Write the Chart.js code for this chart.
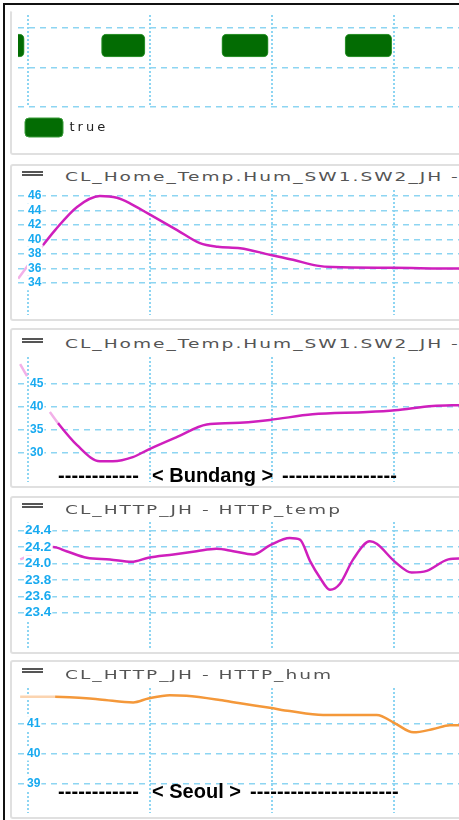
<!DOCTYPE html>
<html><head><meta charset="utf-8">
<script src="https://cdn.jsdelivr.net/npm/chart.js@4.4.1/dist/chart.umd.min.js"></script>
<style>
html,body{margin:0;padding:0;overflow:hidden;background:#fff;}
body{width:459px;height:820px;position:relative;}
.frame{position:absolute;left:3px;top:3px;width:600px;height:900px;border-left:2px solid #111;border-top:2px solid #111;}
.panel{position:absolute;left:10px;width:520px;border:2px solid #e0e0e0;border-radius:3px;box-sizing:border-box;}
.ham{position:absolute;left:22px;width:21px;height:2px;background:#555;}
.ttl{position:absolute;left:65px;font:13px 'DejaVu Sans',sans-serif;line-height:16px;letter-spacing:1.4px;color:#555;transform:scaleX(1.43);transform-origin:0 50%;white-space:nowrap;}
.note{position:absolute;font:bold 20px 'Liberation Sans',Arial,sans-serif;line-height:20px;color:#000;white-space:nowrap;}
.dash{letter-spacing:0.1px;}
canvas{position:absolute;}
</style></head>
<body>
<div class="frame"></div>

<div class="panel" style="top:10px;height:145px;border-top-color:transparent;"></div>
<canvas id="c1" width="464" height="132" style="left:14px;top:15px;width:464px;height:132px;"></canvas>

<div class="panel" style="top:164px;height:157px;"></div>
<div class="ham" style="top:171px;"></div><div class="ham" style="top:174px;"></div>
<div class="ttl" style="top:169px;">CL_Home_Temp.Hum_SW1.SW2_JH -</div>
<canvas id="c2" width="460" height="125" style="left:18px;top:190px;width:460px;height:125px;"></canvas>

<div class="panel" style="top:328px;height:160px;"></div>
<div class="ham" style="top:338px;"></div><div class="ham" style="top:341px;"></div>
<div class="ttl" style="top:336px;">CL_Home_Temp.Hum_SW1.SW2_JH -</div>
<canvas id="c3" width="460" height="125" style="left:18px;top:357px;width:460px;height:125px;"></canvas>
<div class="note dash" style="left:58px;top:465px;">------------</div>
<div class="note" style="left:152px;top:465px;">&lt; Bundang &gt;</div>
<div class="note dash" style="left:282px;top:465px;">-----------------</div>

<div class="panel" style="top:496px;height:158px;"></div>
<div class="ham" style="top:503px;"></div><div class="ham" style="top:506px;"></div>
<div class="ttl" style="top:502px;">CL_HTTP_JH - HTTP_temp</div>
<canvas id="c4" width="460" height="126" style="left:18px;top:522px;width:460px;height:126px;"></canvas>

<div class="panel" style="top:660px;height:159px;"></div>
<div class="ham" style="top:668px;"></div><div class="ham" style="top:671px;"></div>
<div class="ttl" style="top:667px;">CL_HTTP_JH - HTTP_hum</div>
<canvas id="c5" width="460" height="125" style="left:18px;top:688px;width:460px;height:125px;"></canvas>
<div class="note dash" style="left:58px;top:781px;">------------</div>
<div class="note" style="left:152px;top:781px;">&lt; Seoul &gt;</div>
<div class="note dash" style="left:250px;top:781px;">----------------------</div>

<script>
// ---------- data (time in minutes) ----------
const X_GRID_TICKS = [0, 30, 60, 90];

const STATE_LABEL = 'true';
const STATE_ON_START = [-10, 18.0, 47.6, 77.9];
const STATE_ON_END   = [-1.0, 28.7, 59.0, 89.4];
const STATE_GRID_TICKS = [0, 1, 2];

const HUM1_T = [-2.5, 3.6, 6.6, 12.0, 17.6, 21.8, 25.0, 29.4, 36.6, 42.2, 46.6, 52.1, 59.4, 65.1, 71.0, 74.9, 89.7, 105.9, 110.6];
const HUM1_V = [34.6, 39.2, 41.3, 44.5, 46.0, 45.75, 45.0, 43.6, 41.3, 39.5, 39.0, 38.8, 37.9, 37.2, 36.4, 36.2, 36.1, 36.0, 36.0];
const HUM1_TICKS = [34, 36, 38, 40, 42, 44, 46];

const HUM2_T = [-2.0, -0.3, 2.5, 5.3, 7.3, 12.0, 17.6, 20.8, 25.7, 29.4, 36.6, 43.9, 50.3, 59.4, 69.9, 83.3, 90.2, 99.5, 105.9, 110.6];
const HUM2_V = [49.3, 46.7, null, 38.9, 36.5, 31.7, 28.2, 28.2, 29.1, 30.7, 33.5, 36.2, 36.5, 37.2, 38.4, 38.9, 39.3, 40.2, 40.4, 40.5];
const HUM2_TICKS = [30, 35, 40, 45];

const TEMP_T = [-2.0, 6.1, 9.4, 14.4, 20.1, 25.4, 29.5, 35.7, 41.4, 46.3, 50.4, 55.3, 59.4, 64.3, 66.8, 69.3, 71.7, 74.2, 76.6, 79.9, 84.0, 85.7, 90.2, 94.3, 98.0, 103.3, 105.9, 110.6];
const TEMP_V = [24.05, 24.20, 24.15, 24.07, 24.05, 24.02, 24.07, 24.11, 24.15, 24.18, 24.15, 24.11, 24.22, 24.31, 24.29, 24.03, 23.83, 23.68, 23.75, 24.05, 24.27, 24.24, 24.02, 23.89, 23.91, 24.05, 24.06, 24.06];
const TEMP_TICKS = [23.4, 23.6, 23.8, 24.0, 24.2, 24.4];

const HUM3_T = [-2.0, 6.6, 17.6, 25.8, 29.5, 34.8, 38.9, 47.1, 52.1, 59.4, 64.3, 72.5, 85.7, 90.2, 94.7, 99.6, 103.7, 105.9, 110.6];
const HUM3_V = [41.89, 41.89, 41.80, 41.70, 41.83, 41.94, 41.92, 41.78, 41.67, 41.52, 41.41, 41.28, 41.28, 41.00, 40.70, 40.81, 40.94, 40.94, 40.94];
const HUM3_TICKS = [39, 40, 41];

// ---------- styles ----------
const X_MIN = -2.53, X_MAX = 110.6;
const GRID = '#8dd5f2';
const TICK = '#18aaf0';
const MAGENTA = '#cf1fbd', MAGENTA_FADE = '#f2b0e8';
const ORANGE = '#f4983a', ORANGE_FADE = '#fbd4b0';
const GREEN = '#036c03', GREEN_EDGE = '#3a9c3a';

function xScale() {
  return {
    type: 'linear', min: X_MIN, max: X_MAX, position: 'bottom', offset: false,
    ticks: { display: false },
    grid: { color: GRID, lineWidth: 2, drawTicks: false, offset: false },
    border: { display: false, dash: [2, 2] },
    afterBuildTicks: s => { s.ticks = X_GRID_TICKS.map(value => ({ value })); },
    afterFit: s => { s.height = 0; s.paddingLeft = 0; s.paddingRight = 0; }
  };
}

const base = {
  responsive: false, animation: false, events: [],
  layout: { padding: 0, autoPadding: false },
  plugins: { tooltip: { enabled: false }, title: { display: false } }
};

// ---------- panel 1: state timeline ----------
new Chart(document.getElementById('c1'), {
  type: 'bar',
  data: {
    datasets: [{
      label: STATE_LABEL,
      data: STATE_ON_START.map((s, i) => ({ x: [s, STATE_ON_END[i]], y: 1.55 })),
      backgroundColor: GREEN, borderColor: GREEN_EDGE, borderWidth: 1,
      borderRadius: 5, borderSkipped: false, barThickness: 23
    }]
  },
  options: Object.assign({}, base, {
    indexAxis: 'y',
    plugins: Object.assign({}, base.plugins, {
      legend: {
        display: true, position: 'bottom', align: 'start',
        labels: {
          boxWidth: 38, boxHeight: 19, padding: 11, useBorderRadius: true, borderRadius: 4,
          color: '#222', font: { family: "'DejaVu Sans', sans-serif", size: 13 }
        }
      }
    }),
    scales: {
      x: xScale(),
      y: {
        type: 'linear', min: 0, max: 2.32, position: 'left', offset: false,
        ticks: { display: false },
        grid: { color: GRID, lineWidth: 1.5, drawTicks: false, offset: false },
        border: { display: false, dash: [6, 5] },
        afterBuildTicks: s => { s.ticks = STATE_GRID_TICKS.map(value => ({ value })); },
        afterFit: s => { s.width = 4; s.paddingTop = 0; s.paddingBottom = 0; }
      }
    }
  }),
  plugins: [{ id: 'spacing', beforeDraw: c => { c.ctx.letterSpacing = '3px'; } }]
});

// ---------- line panels ----------
function lineChart(id, T, V, ticks, yMin, yMax, color, fade, fadeUntil, fontSize, pad, decimals) {
  return new Chart(document.getElementById(id), {
    type: 'line',
    data: {
      datasets: [{
        data: T.map((x, i) => ({ x, y: V[i] })),
        borderColor: color, borderWidth: 2.5, pointRadius: 0, fill: false,
        cubicInterpolationMode: 'monotone', spanGaps: false,
        segment: { borderColor: c => (T[c.p1DataIndex] <= fadeUntil ? fade : undefined) }
      }]
    },
    options: Object.assign({}, base, {
      plugins: Object.assign({}, base.plugins, { legend: { display: false } }),
      scales: {
        x: xScale(),
        y: {
          type: 'linear', min: yMin, max: yMax, position: 'left',
          ticks: {
            mirror: true, padding: pad, color: TICK, z: 1,
            font: { family: "'Liberation Sans', Arial, sans-serif", weight: 'bold', size: fontSize },
            showLabelBackdrop: true, backdropColor: '#ffffff', backdropPadding: { left: 1, right: 1, top: 0, bottom: 0 },
            callback: v => Number(v).toFixed(decimals)
          },
          grid: { color: GRID, lineWidth: 1.5, drawTicks: false },
          border: { display: false, dash: [6, 5] },
          afterBuildTicks: s => { s.ticks = ticks.map(value => ({ value })); },
          afterFit: s => { s.width = 0; s.paddingTop = 0; s.paddingBottom = 0; }
        }
      }
    })
  });
}

lineChart('c2', HUM1_T, HUM1_V, HUM1_TICKS, 29.59, 46.83, MAGENTA, MAGENTA_FADE, 4, 12, 10, 0);
lineChart('c3', HUM2_T, HUM2_V, HUM2_TICKS, 23.7, 50.87, MAGENTA, MAGENTA_FADE, 7.5, 12, 12, 0);
lineChart('c4', TEMP_T, TEMP_V, TEMP_TICKS, 22.97, 24.506, MAGENTA, MAGENTA_FADE, 6.5, 13.5, 7, 1);
lineChart('c5', HUM3_T, HUM3_V, HUM3_TICKS, 38.01, 42.18, ORANGE, ORANGE_FADE, 7, 12, 9, 0);
</script>
</body></html>
